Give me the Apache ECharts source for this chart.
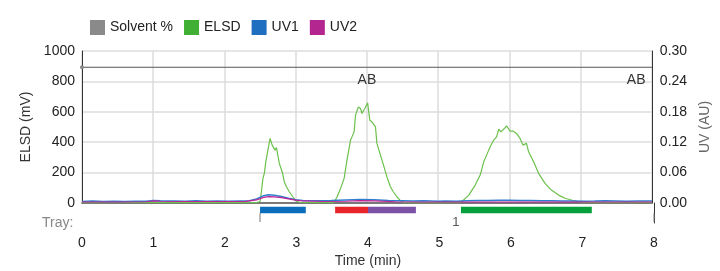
<!DOCTYPE html>
<html>
<head>
<meta charset="utf-8">
<script src="https://cdn.jsdelivr.net/npm/echarts@6/dist/echarts.min.js"></script>
<style>
  html, body { margin: 0; padding: 0; background: #fff; }
  #chart { width: 720px; height: 271px; }
</style>
</head>
<body>
<div id="chart"></div>
<script>
// series data: [time (min), value]
var elsd = [
  [0, 3], [1.0, 4], [2.0, 3], [2.45, 3], [2.5, 10], [2.51, 41], [2.54, 162], [2.56, 195],
  [2.58, 271], [2.61, 348], [2.64, 425], [2.67, 381], [2.68, 392], [2.71, 348], [2.73, 365],
  [2.77, 260], [2.81, 206], [2.84, 140], [2.87, 107], [2.91, 74], [2.96, 41], [3.0, 15],
  [3.05, 5], [3.3, 2], [3.5, 3], [3.54, 5], [3.58, 40], [3.63, 96], [3.68, 162], [3.72, 282],
  [3.77, 414], [3.79, 435], [3.82, 468], [3.84, 578], [3.88, 632], [3.91, 622], [3.93, 589],
  [3.97, 622], [4.01, 659], [4.04, 545], [4.07, 534], [4.12, 501], [4.14, 392], [4.19, 315],
  [4.24, 238], [4.28, 173], [4.33, 107], [4.37, 74], [4.42, 41], [4.47, 15], [4.52, 3],
  [5.0, 1], [5.25, 2], [5.33, 8], [5.43, 52], [5.52, 118], [5.59, 184], [5.64, 271],
  [5.68, 315], [5.73, 370], [5.78, 414], [5.82, 435], [5.85, 486], [5.88, 468], [5.93, 490],
  [5.96, 508], [6.01, 473], [6.05, 473], [6.10, 458], [6.15, 425], [6.19, 381], [6.24, 392],
  [6.27, 337], [6.34, 271], [6.41, 195], [6.50, 129], [6.59, 85], [6.69, 52], [6.78, 31],
  [6.87, 20], [6.97, 8], [7.1, 3], [8, 2]
];
var uv1 = [
  [0, 0.003], [0.15, 0.0038], [0.3, 0.0032], [0.45, 0.0036], [0.6, 0.003], [0.75, 0.0037],
  [0.9, 0.0035], [1.0, 0.005], [1.1, 0.0045], [1.3, 0.004], [1.45, 0.0036], [1.6, 0.0042],
  [1.75, 0.0037], [1.9, 0.004], [2.05, 0.0036], [2.2, 0.004], [2.35, 0.0045], [2.45, 0.008],
  [2.55, 0.0145], [2.62, 0.0163], [2.7, 0.0155], [2.8, 0.013], [2.9, 0.0095], [3.0, 0.0065],
  [3.1, 0.005], [3.3, 0.0045], [3.5, 0.0048], [3.7, 0.006], [3.9, 0.0068], [4.1, 0.0062],
  [4.3, 0.005], [4.5, 0.0045], [4.65, 0.0038], [4.8, 0.0042], [5.0, 0.0037], [5.1, 0.004],
  [5.25, 0.0036], [5.4, 0.0045], [5.55, 0.0049], [5.7, 0.005], [5.85, 0.0054], [6.0, 0.0052],
  [6.15, 0.0048], [6.3, 0.005], [6.45, 0.0044], [6.6, 0.0045], [6.75, 0.0039], [6.9, 0.004],
  [7.05, 0.0036], [7.2, 0.0038], [7.35, 0.0042], [7.5, 0.004], [7.65, 0.0036], [7.8, 0.004],
  [8, 0.004]
];
var uv2 = [
  [0, 0.002], [0.5, 0.002], [0.9, 0.0025], [1.0, 0.004], [1.1, 0.0035], [1.4, 0.003],
  [2.0, 0.003], [2.3, 0.0032], [2.45, 0.006], [2.55, 0.011], [2.62, 0.0125], [2.7, 0.012],
  [2.8, 0.0105], [2.9, 0.008], [3.0, 0.0055], [3.1, 0.004], [3.4, 0.003], [3.7, 0.0035],
  [3.9, 0.0045], [4.1, 0.004], [4.4, 0.0025], [4.8, 0.002], [5.5, 0.002], [6.5, 0.002],
  [8, 0.002]
];
var solventPct = [[0, 89.3], [8, 89.3]];
var abTimes = [4.0, 7.78];
var abLabel = 'AB';

// fraction collection (tray) bars
var fracStart = [2.49, 3.54, 4.0, 5.30];
var fracEnd = [3.13, 4.0, 4.67, 7.13];
var trayMarks = [2.49, 8];
var trayLabelTimes = [5.23];
var trayLabels = ['1'];

var timeTicks = [0, 1, 2, 3, 4, 5, 6, 7, 8];

// styling
var fracColors = ['#0a6ebd', '#e8262a', '#7b52a6', '#05a03c'];
var FONT = 'Liberation Sans, Arial, sans-serif';

var trayItems = [];
fracStart.forEach(function (s, i) { trayItems.push({ kind: 'bar', s: s, e: fracEnd[i], c: fracColors[i] }); });
trayMarks.forEach(function (t) { trayItems.push({ kind: 'mark', s: t }); });
trayLabelTimes.forEach(function (t, i) { trayItems.push({ kind: 'label', s: t, text: trayLabels[i] }); });

function renderTray(params, api) {
  var it = trayItems[params.dataIndex];
  if (it.kind === 'bar') {
    var p0 = api.coord([it.s, 3.7]);
    var p1 = api.coord([it.e, 10.3]);
    return { type: 'rect', shape: { x: p0[0], y: p0[1], width: p1[0] - p0[0], height: p1[1] - p0[1] },
      style: { fill: it.c } };
  }
  if (it.kind === 'mark') {
    var a = api.coord([it.s, 10]);
    var b = api.coord([it.s, 19]);
    return { type: 'line', shape: { x1: a[0], y1: a[1], x2: b[0], y2: b[1] },
      style: { stroke: '#777', lineWidth: 1 } };
  }
  var q = api.coord([it.s, 19]);
  return { type: 'text', x: q[0], y: q[1],
    style: { text: it.text, fill: '#555', font: '13px ' + FONT, align: 'center', verticalAlign: 'middle' } };
}

var chart = echarts.init(document.getElementById('chart'));

var option = {
  animation: false,
  textStyle: { fontFamily: FONT },
  legend: {
    data: ['Solvent %', 'ELSD', 'UV1', 'UV2'],
    left: 85, top: 15,
    icon: 'rect', itemWidth: 15, itemHeight: 15, itemGap: 11,
    textStyle: { fontSize: 14, color: '#222', fontFamily: FONT }
  },
  graphic: [{
    type: 'text', left: 42, top: 216,
    style: { text: 'Tray:', fill: '#888', font: '14px ' + FONT }
  }],
  grid: [
    { left: 82, right: 66, top: 51, height: 152 },
    { left: 82, right: 66, top: 203, height: 20 }
  ],
  xAxis: [{
    gridIndex: 0, type: 'value', min: 0, max: 8, interval: 1, position: 'top',
    axisLine: { show: true, lineStyle: { color: '#555', width: 1.5 } },
    axisTick: { show: false }, axisLabel: { show: false },
    splitLine: { show: true, lineStyle: { color: '#dcdcdc', width: 1.5 } }
  }, {
    gridIndex: 1, type: 'value', min: 0, max: 8, interval: 1,
    axisLine: { show: false }, axisTick: { show: false },
    axisLabel: { margin: 13, fontSize: 14, color: '#222',
      customValues: timeTicks },
    splitLine: { show: false },
    name: 'Time (min)', nameLocation: 'middle', nameGap: 31,
    nameTextStyle: { fontSize: 14, color: '#333' }
  }],
  yAxis: [{
    gridIndex: 0, type: 'value', min: 0, max: 1000, interval: 200,
    axisLine: { show: true, lineStyle: { color: '#333' } },
    axisTick: { show: false },
    axisLabel: { fontSize: 14, color: '#222', margin: 7,
      formatter: function (v) { return String(v); } },
    splitLine: { lineStyle: { color: '#dcdcdc', width: 1.5 } },
    name: 'ELSD (mV)', nameLocation: 'middle', nameGap: 44,
    nameTextStyle: { fontSize: 14, color: '#333' }
  }, {
    gridIndex: 0, type: 'value', min: 0, max: 0.3, interval: 0.06, position: 'right',
    axisLine: { show: true, lineStyle: { color: '#333' } },
    axisTick: { show: false },
    axisLabel: { fontSize: 14, color: '#222', margin: 8,
      formatter: function (v) { return v.toFixed(2); } },
    splitLine: { show: false },
    name: 'UV (AU)', nameLocation: 'middle', nameGap: 46,
    nameTextStyle: { fontSize: 14, color: '#666' }
  }, {
    gridIndex: 0, type: 'value', min: 0, max: 100, show: false
  }, {
    gridIndex: 1, type: 'value', min: 0, max: 20, inverse: true,
    axisLine: { show: false }, axisLabel: { show: false }, axisTick: { show: false },
    splitLine: { show: false }
  }, {
    gridIndex: 1, type: 'value', min: 0, max: 20, position: 'right',
    axisLine: { show: true, lineStyle: { color: '#333' } },
    axisLabel: { show: false }, axisTick: { show: false }, splitLine: { show: false }
  }],
  series: [{
    name: 'Solvent %', type: 'line', xAxisIndex: 0, yAxisIndex: 2,
    data: solventPct,
    symbol: 'circle',
    symbolSize: function (v, p) { return p.dataIndex === 0 ? 4 : 0; },
    itemStyle: { color: '#8a8a8a' },
    lineStyle: { color: '#555', width: 1 },
    markPoint: {
      symbol: 'circle', symbolSize: 0,
      label: { show: true, formatter: abLabel, position: 'inside', offset: [0, 13],
        fontSize: 14, color: '#333' },
      data: abTimes.map(function (t) { return { coord: [t, solventPct[0][1]] }; })
    },
    z: 1
  }, {
    name: 'ELSD', type: 'line', xAxisIndex: 0, yAxisIndex: 0,
    data: elsd, showSymbol: false,
    itemStyle: { color: '#3fb034' },
    lineStyle: { color: '#6cc04c', width: 1.2 },
    z: 2
  }, {
    name: 'UV1', type: 'line', xAxisIndex: 0, yAxisIndex: 1,
    data: uv1, showSymbol: false,
    itemStyle: { color: '#1f6fc0' },
    lineStyle: { color: '#2f7fd0', width: 1.5 },
    z: 3
  }, {
    name: 'UV2', type: 'line', xAxisIndex: 0, yAxisIndex: 1,
    data: uv2, showSymbol: false,
    itemStyle: { color: '#b3268f' },
    lineStyle: { color: '#c02296', width: 1.2 },
    z: 4
  }, {
    type: 'custom', xAxisIndex: 1, yAxisIndex: 3,
    renderItem: renderTray,
    data: trayItems.map(function (it) { return [it.s]; }),
    clip: false, silent: true
  }]
};

chart.setOption(option);
</script>
</body>
</html>
